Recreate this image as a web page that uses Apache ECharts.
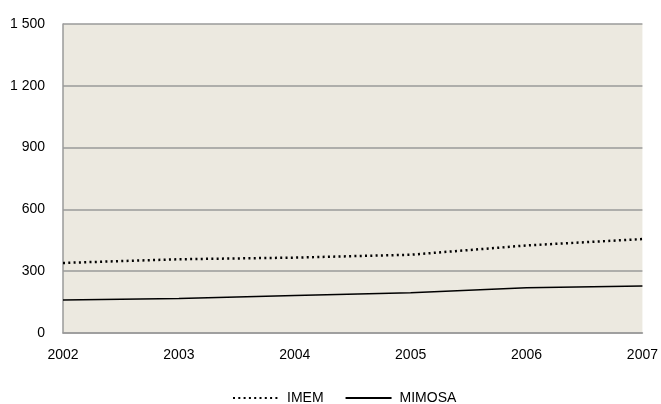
<!DOCTYPE html>
<html><head><meta charset="utf-8">
<script src="https://cdn.jsdelivr.net/npm/echarts@6/dist/echarts.min.js"></script>
<style>html,body{margin:0;padding:0;background:#fff}#c{width:661px;height:404px}</style>
</head><body><div id="c"></div>
<script>
const years = ['2002','2003','2004','2005','2006','2007'];
const imem = [340, 358, 366, 380, 425, 456];
const mimosa = [160, 168, 182, 195, 220, 228];
const seriesNames = ['IMEM', 'MIMOSA'];

const chart = echarts.init(document.getElementById('c'));
chart.setOption({
  animation: false,
  textStyle: {fontFamily: 'Liberation Sans, Arial, sans-serif'},
  grid: {left: 63, right: 18, top: 24, bottom: 71, show: true, backgroundColor: '#ECE9E0', borderWidth: 0},
  xAxis: {
    type: 'category', data: years, boundaryGap: false,
    axisLine: {lineStyle: {color: '#9a9a9a', width: 1.5}},
    axisTick: {show: false},
    axisLabel: {color: '#000', fontSize: 14, margin: 15}
  },
  yAxis: {
    type: 'value', min: 0, max: 1500, interval: 300,
    axisLine: {show: true, lineStyle: {color: '#9a9a9a', width: 1.5}},
    axisTick: {show: false},
    axisLabel: {color: '#000', fontSize: 14, margin: 18,
      formatter: v => String(v).replace(/\B(?=(\d{3})+(?!\d))/g, ' ')},
    splitLine: {lineStyle: {color: '#9a9a9a', width: 1.5}}
  },
  legend: {
    top: 386, left: 227, itemWidth: 46, itemHeight: 10, itemGap: 21,
    textStyle: {color: '#000', fontSize: 14, padding: [0, 0, 0, 3]},
    itemStyle: {opacity: 0},
    data: seriesNames
  },
  series: [
    {name: seriesNames[0], type: 'line', data: imem, symbol: 'none',
     lineStyle: {color: '#000', width: 2.5, type: [2, 3.3]}, itemStyle: {color: '#000'}},
    {name: seriesNames[1], type: 'line', data: mimosa, symbol: 'none',
     lineStyle: {color: '#000', width: 1.5}, itemStyle: {color: '#000'}}
  ]
});
</script></body></html>
